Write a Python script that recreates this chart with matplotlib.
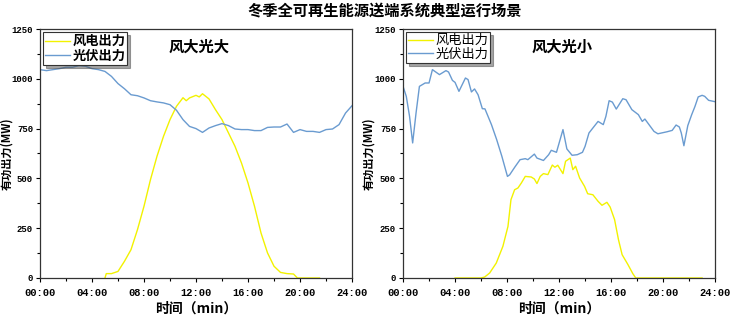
import matplotlib.pyplot as plt
import numpy as np

plt.rcParams['font.family'] = ['Noto Sans CJK SC', 'DejaVu Sans']

# 风大光大 (left)
t_pv1 = [0, 0.5, 1, 1.5, 2, 2.5, 3, 3.5, 4, 4.5, 5, 5.5, 6, 6.5, 7, 7.5, 8, 8.5, 9, 9.5,
         10, 10.5, 11, 11.5, 12, 12.5, 13, 13.5, 14, 14.5, 15, 15.5, 16, 16.5, 17, 17.5,
         18, 18.5, 19, 19.5, 20, 20.5, 21, 21.5, 22, 22.5, 23, 23.5, 24]
pv1 = [1046, 1041, 1046, 1051, 1058, 1058, 1066, 1063, 1051, 1046, 1037, 1012, 976, 950,
       920, 915, 904, 890, 884, 879, 870, 842, 795, 761, 750, 731, 753, 765, 775, 765,
       748, 745, 745, 740, 740, 756, 758, 758, 773, 731, 745, 736, 736, 731, 745, 748,
       770, 828, 865]
t_wind1 = [5.0, 5.1, 5.5, 6, 6.5, 7, 7.5, 8, 8.5, 9, 9.5, 10, 10.5, 11, 11.25, 11.5, 12,
           12.25, 12.5, 13, 13.5, 14, 14.5, 15, 15.5, 16, 16.5, 17, 17.5, 18, 18.5, 19,
           19.5, 19.8, 21.5]
wind1 = [0, 22, 22, 33, 84, 142, 243, 360, 494, 611, 711, 795, 862, 905, 890, 904, 917,
         909, 925, 899, 845, 795, 728, 661, 577, 477, 360, 226, 126, 59, 28, 22, 20, 0, 0]

# 风大光小 (right)
t_pv2 = [0, 0.25, 0.5, 0.74, 1.0, 1.26, 1.7, 2.0, 2.26, 2.8, 3.3, 3.5, 3.8, 4.0, 4.3, 4.8,
         5.0, 5.26, 5.5, 5.77, 6.1, 6.3, 6.8, 7.2, 7.6, 8.03, 8.2, 8.6, 9.0, 9.4, 9.6,
         10.1, 10.3, 10.8, 11.2, 11.4, 11.8, 12.3, 12.6, 13.0, 13.4, 13.8, 14.0, 14.3,
         14.6, 15.0, 15.4, 15.6, 15.85, 16.1, 16.4, 16.9, 17.15, 17.6, 18.1, 18.4, 18.6,
         19.3, 19.6, 20.3, 20.7, 21.0, 21.25, 21.4, 21.6, 21.9, 22.2, 22.45, 22.7, 23.0,
         23.2, 23.5, 24.0]
pv2 = [962, 912, 812, 678, 828, 962, 979, 979, 1046, 1021, 1041, 1034, 992, 982, 937,
       1004, 996, 934, 949, 920, 850, 849, 770, 695, 611, 510, 518, 557, 594, 599, 594,
       622, 602, 590, 619, 641, 631, 745, 648, 616, 619, 631, 661, 728, 753, 786, 770,
       811, 890, 883, 848, 900, 895, 845, 820, 786, 798, 736, 724, 734, 741, 768, 758,
       728, 664, 765, 820, 861, 909, 917, 912, 892, 885]
t_wind2 = [4.0, 6.0, 6.28, 6.66, 7.17, 7.68, 8.07, 8.3, 8.58, 8.84, 9.1, 9.4, 9.86, 10.1,
           10.3, 10.55, 10.8, 11.14, 11.48, 11.68, 11.9, 12.3, 12.5, 12.86, 13.06, 13.27,
           13.58, 13.96, 14.2, 14.6, 15.0, 15.3, 15.68, 15.93, 16.27, 16.57, 16.85, 17.3,
           17.67, 17.9, 23.0]
wind2 = [0, 0, 5, 25, 75, 159, 259, 393, 443, 452, 477, 510, 507, 497, 474, 510, 524, 519,
         567, 556, 566, 524, 586, 602, 544, 561, 502, 460, 423, 418, 385, 365, 380, 356,
         293, 192, 117, 67, 22, 0, 0]

xticks = [0, 4, 8, 12, 16, 20, 24]
xlabels = ['00:00', '04:00', '08:00', '12:00', '16:00', '20:00', '24:00']
yticks = [0, 250, 500, 750, 1000, 1250]

fig = plt.figure(figsize=(7.36, 3.18), dpi=100)
fig.text(0.522, 0.965, '冬季全可再生能源送端系统典型运行场景', ha='center', va='center',
         fontsize=11, fontweight='bold')

panels = [
    (0.0543, '风大光大', t_wind1, wind1, t_pv1, pv1, 'bold', -0.085),
    (0.5476, '风大光小', t_wind2, wind2, t_pv2, pv2, 'medium', -0.09),
]

for left, name, tw, w, tp, p, lw_, ylx in panels:
    ax = fig.add_axes([left, 0.1258, 0.424, 0.783])
    ax.plot(tw, w, color='#f2f200', lw=1, label='风电出力')
    ax.plot(tp, p, color='#6a9bd0', lw=1, label='光伏出力')
    ax.set_xlim(0, 24)
    ax.set_ylim(0, 1250)
    ax.set_xticks(xticks)
    ax.set_xticklabels(xlabels, family='Liberation Mono', fontweight='bold', fontsize=7.5)
    ax.set_xticks([2, 6, 10, 14, 18, 22], minor=True)
    ax.set_yticks(yticks)
    ax.set_yticklabels([str(v) for v in yticks], family='Liberation Mono',
                       fontweight='bold', fontsize=6.5)
    ax.set_yticks([125, 375, 625, 875, 1125], minor=True)
    ax.tick_params(which='major', length=3, width=0.8, pad=2)
    ax.tick_params(axis='x', which='major', pad=4)
    ax.tick_params(which='minor', length=2, width=0.8)
    for s in ax.spines.values():
        s.set_color('#333333')
        s.set_linewidth(0.9)
    ax.set_xlabel('时间（min）', fontsize=10, fontweight='bold', labelpad=3)
    ax.set_ylabel('有功出力(MW)', fontsize=8, fontweight='bold')
    ax.yaxis.set_label_coords(ylx, 0.5)
    ax.text(0.51, 0.93, name, transform=ax.transAxes, ha='center', va='center',
            fontsize=11, fontweight='bold')
    leg = ax.legend(loc='upper left', frameon=True, fancybox=False, shadow=True,
                    prop={'size': 9.5, 'weight': lw_}, borderpad=0.15,
                    labelspacing=0.05, handlelength=1.9, handletextpad=0.15,
                    borderaxespad=0.25)
    leg.get_frame().set_edgecolor('#333333')
    leg.get_frame().set_linewidth(0.8)

fig.savefig('out.png', dpi=100)
